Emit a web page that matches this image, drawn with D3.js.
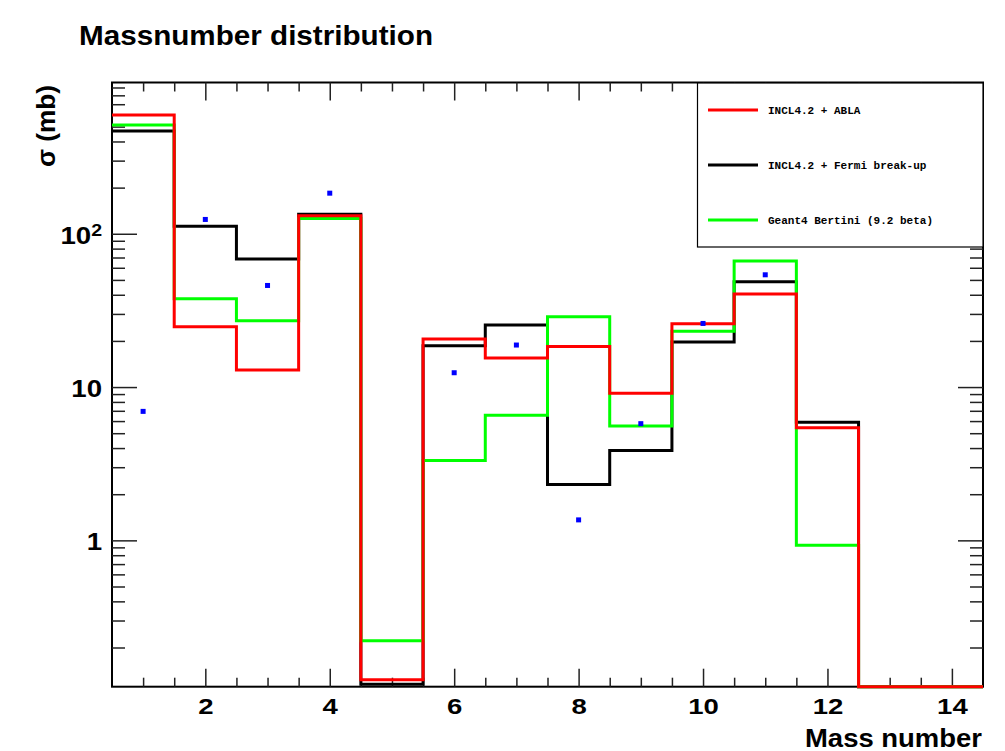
<!DOCTYPE html>
<meta charset="utf-8">
<style>
body { margin: 0; background: #fff; }
text { font-family: "Liberation Sans", Arial, sans-serif; }
.tick line { stroke: #222; stroke-width: 1.5; }
.legend text { font-family: "Liberation Mono", "Courier New", monospace; font-weight: bold; font-size: 11px; }
</style>
<body>
<script src="https://cdn.jsdelivr.net/npm/d3@7"></script>
<script>

// bin centres (mass number A) and histogram contents in mb
var massNumbers = [1, 2, 3, 4, 5, 6, 7, 8, 9, 10, 11, 12, 13, 14];
var inclAbla    = [595, 24.7, 12.9, 131, 0.123, 20.6, 15.5, 18.4, 9.1, 25.9, 40.5, 5.43, 0, 0];
var inclFermi   = [468, 112, 68.4, 134, 0.115, 18.6, 25.4, 2.31, 3.86, 19.7, 48.6, 5.89, 0, 0];
var bertini     = [512, 37.7, 27.1, 126, 0.221, 3.32, 6.54, 28.8, 5.57, 23.1, 66.4, 0.93, 0, 0];

// experimental points
var expMass  = [1, 2, 3, 4, 6, 7, 8, 9, 10, 11];
var expSigma = [6.94, 124, 46, 184, 12.4, 18.8, 1.36, 5.77, 26.0, 54.0];

var legendLabels = ["INCL4.2 + ABLA", "INCL4.2 + Fermi break-up", "Geant4 Bertini (9.2 beta)"];
var xTickLabels = [2, 4, 6, 8, 10, 12, 14];
var yTickLabels = [1, 10, 100];

var margin = {top: 82.5, right: 22, bottom: 64.3, left: 112},
    width = 1005 - margin.left - margin.right,
    height = 751 - margin.top - margin.bottom;

var x = d3.scaleLinear().domain([0.5, 14.5]).range([0, width]);
var y = d3.scaleLog().domain([0.111, 970]).range([height, 0]).clamp(true);

var svg = d3.select("body").append("svg")
    .attr("width", 1005)
    .attr("height", 751);

var g = svg.append("g")
    .attr("transform", "translate(" + margin.left + "," + margin.top + ")");

// stretch text a little, the original Helvetica is wider
function widen(sel, f) {
  sel.each(function() {
    this.setAttribute("textLength", this.getComputedTextLength() * f);
    this.setAttribute("lengthAdjust", "spacingAndGlyphs");
  });
}

// minor tick positions
var xMinor = d3.range(1, 14.5, 0.5).filter(function(v) { return v % 2 !== 0; });
var yMinor = [];
[0.1, 1, 10, 100].forEach(function(dec) {
  for (var k = 2; k <= 9; k++) {
    var v = dec * k;
    if (v > 0.111 && v < 970) yMinor.push(v);
  }
});

function noDomain(sel) { sel.select(".domain").remove(); }

// frame
g.append("rect")
    .attr("width", width)
    .attr("height", height)
    .attr("fill", "none")
    .attr("stroke", "#000")
    .attr("stroke-width", 2);

// bottom axis
g.append("g")
    .attr("transform", "translate(0," + height + ")")
    .call(d3.axisBottom(x).tickValues(xTickLabels).tickSize(-18).tickSizeOuter(0).tickPadding(12))
    .call(noDomain)
    .selectAll("text")
    .style("font-size", "22px").style("font-weight", "bold").attr("fill", "#000")
    .call(widen, 1.25);
g.append("g")
    .attr("transform", "translate(0," + height + ")")
    .call(d3.axisBottom(x).tickValues(xMinor).tickSize(-9).tickSizeOuter(0).tickFormat(""))
    .call(noDomain);

// top axis (ticks only)
g.append("g")
    .call(d3.axisTop(x).tickValues(xTickLabels).tickSize(-18).tickSizeOuter(0).tickFormat(""))
    .call(noDomain);
g.append("g")
    .call(d3.axisTop(x).tickValues(xMinor).tickSize(-9).tickSizeOuter(0).tickFormat(""))
    .call(noDomain);

// left axis
var yAx = g.append("g")
    .call(d3.axisLeft(y).tickValues(yTickLabels).tickSize(-25).tickSizeOuter(0).tickPadding(10)
      .tickFormat(function(d) { return d === 100 ? "10" : String(d); }))
    .call(noDomain);
yAx.selectAll("text")
    .style("font-size", "24px").style("font-weight", "bold").attr("fill", "#000")
    .attr("dy", "0.4em");
yAx.selectAll("text").filter(function(d) { return d === 100; })
    .append("tspan")
    .attr("dy", "-0.45em")
    .style("font-size", "17px")
    .text("2");
yAx.selectAll("text").call(widen, 1.15);
g.append("g")
    .call(d3.axisLeft(y).tickValues(yMinor).tickSize(-13).tickSizeOuter(0).tickFormat(""))
    .call(noDomain);

// right axis (ticks only)
g.append("g")
    .attr("transform", "translate(" + width + ",0)")
    .call(d3.axisRight(y).tickValues(yTickLabels).tickSize(-25).tickSizeOuter(0).tickFormat(""))
    .call(noDomain);
g.append("g")
    .attr("transform", "translate(" + width + ",0)")
    .call(d3.axisRight(y).tickValues(yMinor).tickSize(-13).tickSizeOuter(0).tickFormat(""))
    .call(noDomain);

// histogram outlines
function steps(values) {
  var pts = [];
  values.forEach(function(v, i) {
    var a = massNumbers[i];
    pts.push([a - 0.5, v > 0 ? v : 0.111]);
    pts.push([a + 0.5, v > 0 ? v : 0.111]);
  });
  return pts;
}
var line = d3.line()
    .x(function(d) { return x(d[0]); })
    .y(function(d) { return y(d[1]); });

var series = [
  {values: inclFermi, color: "#000000"},
  {values: bertini, color: "#00ff00"},
  {values: inclAbla, color: "#ff0000"}
];
series.forEach(function(s) {
  g.append("path")
      .attr("d", line(steps(s.values)))
      .attr("fill", "none")
      .attr("stroke", s.color)
      .attr("stroke-width", 3);
});

// data points
g.selectAll("rect.pt")
    .data(expMass)
  .enter().append("rect")
    .attr("class", "pt")
    .attr("x", function(d) { return x(d) - 2.5; })
    .attr("y", function(d, i) { return y(expSigma[i]) - 2.5; })
    .attr("width", 5)
    .attr("height", 5)
    .attr("fill", "#0000ff");

// legend
var lg = svg.append("g").attr("class", "legend");
lg.append("rect")
    .attr("x", 697.5).attr("y", 83)
    .attr("width", 285.5).attr("height", 164)
    .attr("fill", "#fff").attr("stroke", "#000").attr("stroke-width", 1.2);
var legendColors = ["#ff0000", "#000000", "#00ff00"];
legendLabels.forEach(function(lbl, i) {
  var ly = 110 + i * 55;
  lg.append("line")
      .attr("x1", 708).attr("x2", 758)
      .attr("y1", ly).attr("y2", ly)
      .attr("stroke", legendColors[i]).attr("stroke-width", 3);
  lg.append("text")
      .attr("x", 768).attr("y", ly).attr("dy", "0.35em")
      .text(lbl);
});

// titles
svg.append("text")
    .attr("x", 79).attr("y", 45)
    .attr("textLength", 354).attr("lengthAdjust", "spacingAndGlyphs")
    .style("font-size", "27px").style("font-weight", "bold")
    .text("Massnumber distribution");
svg.append("text")
    .attr("x", 982).attr("y", 747)
    .attr("text-anchor", "end")
    .attr("textLength", 177).attr("lengthAdjust", "spacingAndGlyphs")
    .style("font-size", "25px").style("font-weight", "bold")
    .text("Mass number");
svg.append("text")
    .attr("transform", "translate(55,85) rotate(-90)")
    .attr("text-anchor", "end")
    .attr("textLength", 82).attr("lengthAdjust", "spacingAndGlyphs")
    .style("font-size", "25px").style("font-weight", "bold")
    .text("σ (mb)");

</script>
</body>
